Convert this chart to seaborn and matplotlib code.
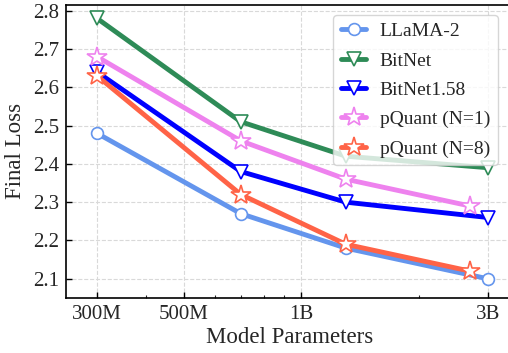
import matplotlib
matplotlib.use("Agg")
import matplotlib.pyplot as plt
import matplotlib.ticker as mticker
import pandas as pd
import seaborn as sns

# model sizes (parameters)
params_base = [3e8, 7e8, 1.3e9, 3e9]
params_pquant = [3e8, 7e8, 1.3e9, 2.7e9]

llama2 = [2.48, 2.27, 2.18, 2.10]
bitnet = [2.78, 2.51, 2.42, 2.39]
bitnet158 = [2.64, 2.38, 2.30, 2.26]
pquant_n1 = [2.68, 2.46, 2.36, 2.29]
pquant_n8 = [2.63, 2.32, 2.19, 2.12]

tick_vals = [3e8, 5e8, 1e9, 3e9]
tick_labels = ["300M", "500M", "1B", "3B"]

series = [
    ("LLaMA-2", params_base, llama2, "#6495ED", "o", 8.5),
    ("BitNet", params_base, bitnet, "#2E8B57", "v", 10),
    ("BitNet1.58", params_base, bitnet158, "#0000FF", "v", 10),
    ("pQuant (N=1)", params_pquant, pquant_n1, "#EE82EE", "*", 15),
    ("pQuant (N=8)", params_pquant, pquant_n8, "#FF6347", "*", 15),
]

sns.set_style("ticks")
plt.rcParams["font.family"] = ["Liberation Serif", "DejaVu Serif"]

fig = plt.figure(figsize=(5.08, 3.53), dpi=100)
ax = fig.add_axes([0.130, 0.156, 0.882, 0.830])

for name, xs, ys, color, marker, ms in series:
    df = pd.DataFrame({"x": xs, "y": ys})
    sns.lineplot(data=df, x="x", y="y", ax=ax, color=color, linewidth=3.5,
                 marker=marker, markersize=ms, markerfacecolor="white",
                 markeredgecolor=color, markeredgewidth=1.2, label=name)

ax.set_xscale("log")
ax.set_xlim(2.5e8, 3.5e9)
ax.set_ylim(2.05, 2.815)
ax.xaxis.set_major_locator(mticker.FixedLocator(tick_vals))
ax.xaxis.set_major_formatter(mticker.FixedFormatter(tick_labels))
ax.xaxis.set_minor_locator(mticker.LogLocator(base=10, subs=range(2, 10)))
ax.xaxis.set_minor_formatter(mticker.NullFormatter())
ax.set_yticks([2.1, 2.2, 2.3, 2.4, 2.5, 2.6, 2.7, 2.8])

ax.tick_params(axis="both", which="major", direction="in", length=4, width=1,
               labelsize=15, color="black", pad=5)
ax.tick_params(axis="x", which="minor", direction="in", length=2.5, width=0.8)
ax.grid(True, which="major", linestyle="--", color="#d9d9d9", linewidth=0.8)
for sp in ax.spines.values():
    sp.set_linewidth(1.2)
    sp.set_color("black")

ax.set_xlabel("Model Parameters", fontsize=16.5, labelpad=2)
ax.set_ylabel("Final Loss", fontsize=16.5, labelpad=5)

leg = ax.legend(loc="upper right", fontsize=14, framealpha=0.8,
                bbox_to_anchor=(0.964, 0.966), borderaxespad=0,
                borderpad=0.4, labelspacing=0.6, handlelength=1.3,
                handletextpad=0.7)

fig.savefig("out.png", dpi=100)
